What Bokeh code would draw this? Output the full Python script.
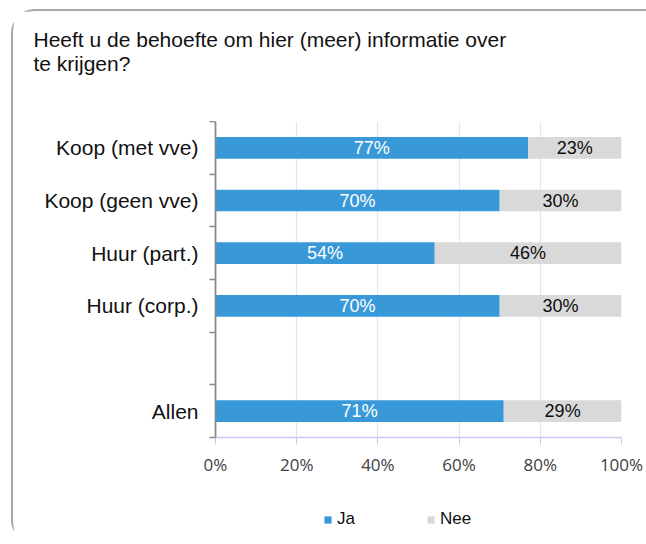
from bokeh.plotting import figure
from bokeh.layouts import column
from bokeh.models import (ColumnDataSource, FixedTicker, NumeralTickFormatter,
                          Legend, LegendItem, LabelSet)
from bokeh.core.properties import value
from bokeh.embed import file_html
from bokeh.resources import INLINE

# ---- data ----
categories = ["Koop (met vve)", "Koop (geen vve)", "Huur (part.)", "Huur (corp.)", "", "Allen"]
ja = [77, 70, 54, 70, None, 71]
nee = [23, 30, 46, 30, None, 29]
x_ticks = [0, 0.2, 0.4, 0.6, 0.8, 1.0]
series_names = ["Ja", "Nee"]
title_text = "Heeft u de behoefte om hier (meer) informatie over\nte krijgen?"

BLUE = "#3999d8"
GREY = "#d9d9d9"
FONT = "Liberation Sans"

n = len(categories)
slot_y = [n - i - 0.5 for i in range(n)]

rows = [i for i in range(n) if ja[i] is not None]
src = ColumnDataSource(dict(
    y=[slot_y[i] for i in rows],
    ja=[ja[i] / 100 for i in rows],
    tot=[(ja[i] + nee[i]) / 100 for i in rows],
    ja_mid=[ja[i] / 200 for i in rows],
    nee_mid=[(ja[i] + nee[i] / 2) / 100 for i in rows],
    ja_lbl=[f"{ja[i]}%" for i in rows],
    nee_lbl=[f"{nee[i]}%" for i in rows],
))

# ---- title strip ----
tf = figure(width=633, height=110, x_range=(0, 1), y_range=(0, 1),
            output_backend="svg", toolbar_location=None,
            x_axis_type=None, y_axis_type=None,
            min_border_left=202, min_border_right=25,
            min_border_top=64, min_border_bottom=0)
tf.outline_line_color = None
tf.grid.visible = False
tf.title.text = title_text
tf.title.align = "left"
tf.title.offset = -182
tf.title.standoff = 0
tf.title.text_font = FONT
tf.title.text_font_size = "21px"
tf.title.text_font_style = "normal"
tf.title.text_color = "#111111"
tf.title.text_line_height = 1.05

# ---- main chart ----
p = figure(width=633, height=359, x_range=(0, 1), y_range=(0, n),
           output_backend="svg", toolbar_location=None,
           min_border_left=202, min_border_right=25,
           min_border_top=0, min_border_bottom=43)
p.title = None
p.outline_line_color = None
p.background_fill_color = "white"
p.border_fill_color = "white"

p.hbar(y="y", left=0, right="ja", height=0.41, fill_color=BLUE,
       line_color=None, source=src)
p.hbar(y="y", left="ja", right="tot", height=0.41, fill_color=GREY,
       line_color=None, source=src)

p.add_layout(LabelSet(x="ja_mid", y="y", text="ja_lbl", source=src,
                      text_align="center", text_baseline="middle",
                      text_color="white", text_font=value(FONT),
                      text_font_size="18px"))
p.add_layout(LabelSet(x="nee_mid", y="y", text="nee_lbl", source=src,
                      text_align="center", text_baseline="middle",
                      text_color="#0d0d0d", text_font=value(FONT),
                      text_font_size="18px"))

# x axis
p.xaxis.ticker = FixedTicker(ticks=x_ticks)
p.xaxis.formatter = NumeralTickFormatter(format="0%")
p.xaxis.axis_line_color = "#c6c8f0"
p.xaxis.axis_line_width = 1.5
p.xaxis.major_tick_line_color = "#c6c8f0"
p.xaxis.major_tick_out = 7
p.xaxis.major_tick_in = 0
p.xaxis.minor_tick_line_color = None
p.xaxis.major_label_text_font = "Open Sans"
p.xaxis.major_label_text_font_size = "17px"
p.xaxis.major_label_text_color = "#404040"
p.xaxis.major_label_standoff = 8

# y axis
p.yaxis.ticker = FixedTicker(ticks=slot_y, minor_ticks=list(range(n + 1)))
p.yaxis.major_label_overrides = {slot_y[i]: categories[i] for i in range(n)}
p.yaxis.axis_line_color = "#8a8a8a"
p.yaxis.axis_line_width = 1.8
p.yaxis.major_tick_line_color = None
p.yaxis.minor_tick_line_color = "#8a8a8a"
p.yaxis.minor_tick_line_width = 1.5
p.yaxis.minor_tick_out = 6
p.yaxis.minor_tick_in = 0
p.yaxis.major_label_text_font = FONT
p.yaxis.major_label_text_font_size = "21px"
p.yaxis.major_label_text_color = "#111111"
p.yaxis.major_label_standoff = 11

p.ygrid.visible = False
p.xgrid.grid_line_color = "#dce8f8"
p.xgrid.grid_line_width = 1.3

# ---- legend strip ----
lg = figure(width=633, height=64, x_range=(0, 1), y_range=(0, 1),
            output_backend="svg", toolbar_location=None,
            x_axis_type=None, y_axis_type=None, min_border=0)
lg.outline_line_color = None
lg.grid.visible = False
lg_ja = lg.hbar(y="y", left=0, right="ja", height=0.4, fill_color=BLUE,
                line_color=None, source=src, visible=False)
lg_nee = lg.hbar(y="y", left="ja", right="tot", height=0.4, fill_color=GREY,
                 line_color=None, source=src, visible=False)
legend = Legend(items=[LegendItem(label=series_names[0], renderers=[lg_ja]),
                       LegendItem(label=series_names[1], renderers=[lg_nee])],
                orientation="horizontal", location=(108, 15),
                glyph_width=9, glyph_height=9, label_standoff=5,
                spacing=69, padding=0, margin=0, border_line_alpha=0,
                background_fill_alpha=0,
                label_text_font=FONT, label_text_font_size="17px",
                label_text_color="#111111")
lg.add_layout(legend, "center")

layout = column(tf, p, lg, spacing=0,
                styles={"margin-left": "11px", "margin-top": "9px",
                        "border-left": "2px solid #a8a8a8",
                        "border-top": "2px solid #a8a8a8",
                        "border-top-left-radius": "24px",
                        "border-bottom-left-radius": "24px"})

open("out.html", "w").write(file_html(layout, INLINE))
